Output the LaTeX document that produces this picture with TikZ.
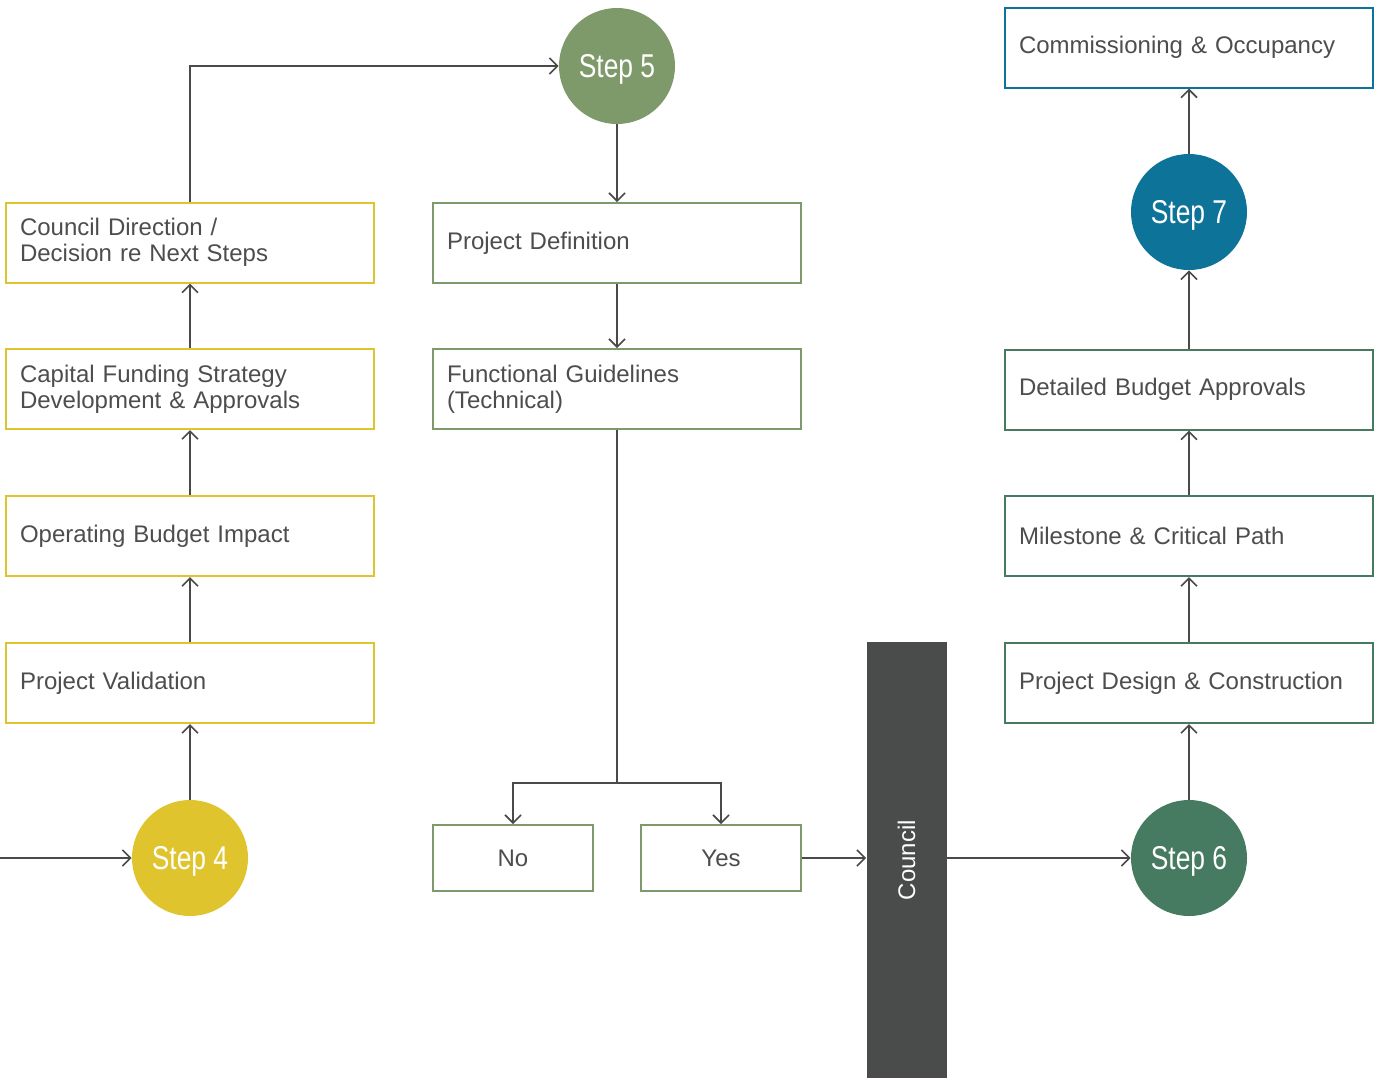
\documentclass[tikz,border=0pt]{standalone}
\usepackage{fontspec}
\setmainfont{Liberation Sans}
\newfontfamily\stepfont[FakeStretch=0.8]{Liberation Sans}
\usetikzlibrary{arrows.meta}
\definecolor{arrowgray}{HTML}{4A4A4A}
\definecolor{textgray}{HTML}{4D4D4D}
\definecolor{stepyellow}{HTML}{DFC42E}
\definecolor{stepgreen}{HTML}{7F9A6A}
\definecolor{stepteal}{HTML}{467A61}
\definecolor{stepblue}{HTML}{0E7398}
\definecolor{councilgray}{HTML}{4A4C4B}
\begin{document}
\begin{tikzpicture}[
        x=0.5pt,y=-0.5pt,
        >={Straight Barb[length=4pt,width=8pt,line width=0.8pt]},
        flowbox/.style={rectangle,line width=1pt,minimum width=184pt,minimum height=40pt,
            text width=170pt,inner xsep=7pt,align=left,text=textgray,font=\fontsize{12}{13.2}\selectfont},
        yellowbox/.style={flowbox,draw=stepyellow},
        greenbox/.style={flowbox,draw=stepgreen},
        tealbox/.style={flowbox,draw=stepteal},
        bluebox/.style={flowbox,draw=stepblue},
        answerbox/.style={flowbox,draw=stepgreen,minimum width=80pt,minimum height=33pt,text width=,align=center},
        stepcircle/.style={circle,minimum size=58pt,inner sep=0pt,text depth=0pt,text=white,font=\stepfont\fontsize{16.5}{18}\selectfont},
        link/.style={draw=arrowgray,line width=0.9pt},
    ]
    \useasboundingbox (0,0) rectangle (1388,1078);
    % left column
    \node[stepcircle,fill=stepyellow] (step4) at (190,858) {Step 4};
    \node[yellowbox] (valid) at (190,683) {Project Validation};
    \node[yellowbox] (opbudget) at (190,536) {Operating Budget Impact};
    \node[yellowbox] (capfund) at (190,389) {Capital Funding Strategy\\Development \& Approvals};
    \node[yellowbox] (direction) at (190,242.5) {Council Direction /\\Decision re Next Steps};
    \coordinate (start) at (0,858);
    % middle column
    \node[stepcircle,fill=stepgreen] (step5) at (617,66) {Step 5};
    \node[greenbox] (definition) at (617,243) {Project Definition};
    \node[greenbox] (guidelines) at (617,389) {Functional Guidelines\\(Technical)};
    \coordinate (split) at (617,783);
    \node[answerbox] (no) at (513,858) {No};
    \node[answerbox] (yes) at (721,858) {Yes};
    \node[rectangle,fill=councilgray,rotate=90,minimum width=218pt,minimum height=40pt,
        text=white,font=\fontsize{12}{13.2}\selectfont] (council) at (906.5,860) {Council};
    % right column
    \node[stepcircle,fill=stepteal] (step6) at (1189,858) {Step 6};
    \node[tealbox] (design) at (1189,683) {Project Design \& Construction};
    \node[tealbox] (milestone) at (1189,536) {Milestone \& Critical Path};
    \node[tealbox] (detailed) at (1189,389.5) {Detailed Budget Approvals};
    \node[stepcircle,fill=stepblue] (step7) at (1189,212) {Step 7};
    \node[bluebox] (commission) at (1189,47.5) {Commissioning \& Occupancy};
    % connectors
    \draw[link,->] (start) -- (step4);
    \draw[link,->] (step4) -- (valid);
    \draw[link,->] (valid) -- (opbudget);
    \draw[link,->] (opbudget) -- (capfund);
    \draw[link,->] (capfund) -- (direction);
    \draw[link,->] (direction.north) |- (step5.west);
    \draw[link,->] (step5) -- (definition);
    \draw[link,->] (definition) -- (guidelines);
    \draw[link] (guidelines.south) -- (split);
    \draw[link,->] (split) -| (no.north);
    \draw[link,->] (split) -| (yes.north);
    \draw[link,->] (yes.east) -- (yes.east -| council.north);
    \draw[link,->] (step6.west -| council.south) -- (step6.west);
    \draw[link,->] (step6) -- (design);
    \draw[link,->] (design) -- (milestone);
    \draw[link,->] (milestone) -- (detailed);
    \draw[link,->] (detailed) -- (step7);
    \draw[link,->] (step7) -- (commission);
\end{tikzpicture}
\end{document}
